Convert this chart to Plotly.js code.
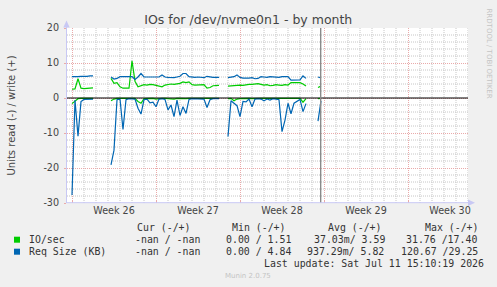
<!DOCTYPE html>
<html>
<head>
<meta charset="utf-8">
<script src="https://cdn.plot.ly/plotly-3.0.1.min.js"></script>
<style>
  html, body { margin: 0; padding: 0; background: #f0f0f0; }
  #chart { width: 497px; height: 287px; }
</style>
</head>
<body>
<div id="chart"></div>
<script>
// Samples every 6 hours, starting Sunday 2026-06-21 00:00; null = no data.
const sampleStartUTC = Date.UTC(2026, 5, 21, 0, 0);
const sampleStepHours = 6;

// Req Size (KB), write (+)
const reqWrite = [
  6.1, 6.0, 6.1, 6.2, 6.1, 6.2, 6.3, 6.3,
  null, null, null, null, null,
  6.0, 5.4, 5.6, 6.1, 6.1, 6.0, 6.1, 6.1, 5.3, 6.0, 7.0, 6.0, 6.0, 5.9, 5.9, 5.8, 6.0,
  6.6, 6.0, 5.9, 5.8, 5.8, 6.0, 6.2, 7.0, 7.0, 6.1, 5.9, 5.9, 6.0, 5.9, 5.8, 6.2, 6.0,
  5.9, 5.9, 5.9,
  null, null,
  5.8, 5.9, 6.1, 6.6, 5.9, 5.7, 5.6, 5.7, 5.8, 5.5, 5.6,
  6.1, 6.0, 5.9, 6.1, 6.0, 6.0, 5.9, 6.1, 6.0, 6.1, 5.1, 5.1, 5.1, 5.2, 6.3, 5.6,
  null, null, null,
  6.0, 5.7
];

// IO/sec, write (+)
const ioWrite = [
  2.5, 2.6, 5.5, 2.8, 2.7, 2.8, 2.7, 2.9,
  null, null, null, null, null,
  5.6, 4.2, 4.4, 3.2, 2.8, 2.8, 2.8, 10.6, 4.8, 3.2, 3.6, 3.8, 3.7, 3.9, 3.8, 3.6, 3.5,
  3.2, 3.7, 3.9, 4.0, 3.9, 4.0, 4.2, 4.6, 4.4, 4.6, 3.8, 3.7, 3.8, 3.9, 3.8, 2.8, 3.0,
  3.5, 3.6, 3.6,
  null, null,
  3.4, 3.5, 3.6, 3.8, 3.7, 3.6, 3.8, 3.9, 3.9, 4.0, 4.1,
  3.9, 3.7, 3.8, 3.5, 3.6, 3.8, 3.7, 3.6, 3.8, 3.7, 4.4, 4.4, 4.5, 4.4, 4.0, 3.4,
  null, null, null,
  3.0, 3.4
];

// Req Size (KB), read (-)
const reqRead = [
  -27.7, -0.6, -10.9, -1.0, -0.4, -0.3, -0.3, -0.3,
  null, null, null, null, null,
  -19.1, -14.9, -0.5, -0.3, -9.0, -0.5, -0.2, -0.2, -0.3, -2.9, -4.6, -0.5, -0.3, -1.4, -1.2, -2.5, -0.3,
  -0.2, -0.4, -3.4, -2.0, -5.3, -0.6, -5.0, -2.5, -4.4, -0.4, -0.2, -0.2, -0.3, -0.2, -0.3, -2.7, -0.5,
  -0.2, -0.3, -0.2,
  null, null,
  -11.0, -0.8, -1.5, -2.2, -5.3, -1.0, -1.1, -0.3, -2.5, -0.3, -0.2,
  -0.3, -0.8, -0.3, -0.6, -0.2, -0.3, -0.5, -9.6, -6.3, -1.5, -4.5, -1.5, -1.0, -0.4, -3.9, -1.6,
  null, null, null,
  -6.6, -0.8
];

// IO/sec, read (-)
const ioRead = [
  -1.6, -0.8, -0.2, -0.1, -0.1, -0.1, -0.1, -0.1,
  null, null, null, null, null,
  -0.8, -0.3, -0.1, -0.1, -0.2, -0.1, -0.1, -0.1, -0.1, -1.0, -1.5, -0.2, -0.1, -0.2, -0.1, -0.3, -0.1,
  -0.1, -0.1, -0.2, -0.1, -0.3, -0.1, -0.2, -0.1, -0.2, -0.1, -0.1, -0.1, -0.1, -0.1, -0.1, -0.2, -0.1,
  -0.1, -0.1, -0.1,
  null, null,
  -0.2, -0.1, -0.8, -0.3, -0.2, -0.1, -0.1, -0.1, -0.2, -0.1, -0.1,
  -0.1, -0.1, -0.1, -0.1, -0.1, -0.1, -0.1, -0.3, -0.2, -0.1, -0.2, -0.1, -0.1, -0.1, -1.2, -0.2,
  null, null, null,
  -0.2, -0.1
];

// Week grid: weeks start on Sunday; labels sit in the middle of each week.
const weekStarts = ['2026-06-21', '2026-06-28', '2026-07-05', '2026-07-12', '2026-07-19'];
const weekLabels = ['Week 26', 'Week 27', 'Week 28', 'Week 29', 'Week 30'];
const yTicks = [-30, -20, -10, 0, 10, 20];

// Legend table
const legendHeader = ['Cur (-/+)', 'Min (-/+)', 'Avg (-/+)', 'Max (-/+)'];
const legendNames = ['IO/sec', 'Req Size (KB)'];
const legendCur = ['-nan / -nan', '-nan / -nan'];
const legendMin = ['0.00 / 1.51', '0.00 / 4.84'];
const legendAvg = ['37.03m/ 3.59', '937.29m/ 5.82'];
const legendMax = ['31.76 /17.40', '120.67 /29.25'];
const lastUpdate = 'Last update: Sat Jul 11 15:10:19 2026';
const nowStamp = '2026-07-11 17:20';

const GREEN = '#00cc00';
const BLUE = '#0066b3';

const DAY_MS = 86400000;
function stamp(ms) {
  return new Date(ms).toISOString().slice(0, 16).replace('T', ' ');
}
const times = reqWrite.map((_, i) => stamp(sampleStartUTC + i * sampleStepHours * 3600 * 1000));

// Plot box in pixels
const W = 497, H = 287;
const PL = 67, PR = 468, PT = 28, PB = 203;
const px = v => (v - PL) / (PR - PL);   // pixel x -> paper
const py = v => (PB - v) / (PB - PT);   // pixel y -> paper

function line(y, color) {
  return { x: times, y: y, type: 'scatter', mode: 'lines',
           line: { color: color, width: 1.2 }, connectgaps: false,
           hoverinfo: 'skip', showlegend: false };
}
const traces = [line(ioRead, GREEN), line(ioWrite, GREEN), line(reqRead, BLUE), line(reqWrite, BLUE)];

const MONO = 'DejaVu Sans Mono';
const SANS = 'DejaVu Sans';
const TXT = '#333333';
const ann = [];
function label(text, x, y, opts) {
  ann.push(Object.assign({
    text: text, xref: 'paper', yref: 'paper', x: px(x), y: py(y),
    xanchor: 'left', yanchor: 'middle', showarrow: false,
    font: { family: MONO, size: 9.9, color: TXT }
  }, opts || {}));
}

// legend columns
const colX = { head: [135, 230, 326, 422.7], cur: [132.7, 132.7], min: [224, 224],
               avg: [311.7, 305], max: [404.3, 399.3] };
const rowY = [239.7, 251.7];
legendHeader.forEach((t, i) => label(t, colX.head[i], 227.7));
legendNames.forEach((t, i) => {
  label(t, 26.7, rowY[i]);
  label(legendCur[i], colX.cur[i], rowY[i]);
  label(legendMin[i], colX.min[i], rowY[i]);
  label(legendAvg[i], colX.avg[i], rowY[i]);
  label(legendMax[i], colX.max[i], rowY[i]);
});
label(lastUpdate, 261.7, 263.3);
label('Munin 2.0.75', 248, 276.3, { xanchor: 'center', font: { family: SANS, size: 7, color: '#c4c4c4' } });
label('Units read (-) / write (+)', 11, 115.5,
      { xanchor: 'center', textangle: -90, font: { family: SANS, size: 10, color: '#444444' } });
label('RRDTOOL / TOBI OETIKER', 488.5, 53,
      { xanchor: 'center', textangle: 90, font: { family: SANS, size: 7, color: '#c4c4c4' } });

const MAJOR = '#eaaaaa';
const MINOR = '#c6c6c6';
const DOTS = '1px,1px';
const AXIS = '#c8c8f4';

const shapes = [];
// minor grid: one dotted line per day, one per 2 units
for (let d = -1; d <= 33; d++) {
  if (d % 7 === 0) continue;
  const t = stamp(sampleStartUTC + d * DAY_MS);
  shapes.push({ type: 'line', xref: 'x', yref: 'paper', x0: t, x1: t, y0: 0, y1: 1,
                line: { color: MINOR, width: 1, dash: DOTS }, layer: 'below' });
}
for (let v = -28; v < 20; v += 2) {
  if (v % 10 === 0) continue;
  shapes.push({ type: 'line', xref: 'paper', yref: 'y', x0: 0, x1: 1, y0: v, y1: v,
                line: { color: MINOR, width: 1, dash: DOTS }, layer: 'below' });
}
shapes.push(
  // zero line
  { type: 'line', xref: 'paper', yref: 'y', x0: 0, x1: 1, y0: 0, y1: 0,
    line: { color: '#000000', width: 1.2 }, layer: 'above' },
  // last-update marker
  { type: 'line', xref: 'x', yref: 'paper', x0: nowStamp, x1: nowStamp, y0: 0, y1: 1,
    line: { color: '#8a8a8a', width: 1.4 }, layer: 'above' },
  // axis lines with arrow heads
  { type: 'line', xref: 'paper', yref: 'paper', x0: px(66.5), x1: px(66.5), y0: py(203), y1: py(25),
    line: { color: AXIS, width: 1 }, layer: 'above' },
  { type: 'path', xref: 'paper', yref: 'paper',
    path: `M ${px(66.5)} ${py(20.5)} L ${px(63.3)} ${py(27.5)} L ${px(69.7)} ${py(27.5)} Z`,
    fillcolor: AXIS, line: { width: 0 }, layer: 'above' },
  { type: 'line', xref: 'paper', yref: 'paper', x0: px(66.5), x1: px(470), y0: py(202.7), y1: py(202.7),
    line: { color: AXIS, width: 1 }, layer: 'above' },
  { type: 'path', xref: 'paper', yref: 'paper',
    path: `M ${px(475)} ${py(202.7)} L ${px(468)} ${py(199.5)} L ${px(468)} ${py(205.9)} Z`,
    fillcolor: AXIS, line: { width: 0 }, layer: 'above' },
  // legend swatches
  { type: 'rect', xref: 'paper', yref: 'paper', x0: px(14), x1: px(20), y0: py(242.7), y1: py(236.7),
    fillcolor: GREEN, line: { width: 0 } },
  { type: 'rect', xref: 'paper', yref: 'paper', x0: px(14), x1: px(20), y0: py(254.7), y1: py(248.7),
    fillcolor: BLUE, line: { width: 0 } }
);

const tickFont = { family: SANS, size: 9.6, color: '#444444' };

const layout = {
  width: W, height: H,
  margin: { l: PL, r: W - PR, t: PT, b: H - PB, pad: 0 },
  paper_bgcolor: '#f0f0f0',
  plot_bgcolor: '#ffffff',
  showlegend: false,
  title: {
    text: 'IOs for /dev/nvme0n1 - by month',
    font: { family: SANS, size: 12.5, color: '#444444' },
    xref: 'container', yref: 'container', x: 248.3 / W, y: 1 - 19.3 / H,
    xanchor: 'center', yanchor: 'middle'
  },
  xaxis: {
    type: 'date',
    range: ['2026-06-20 14:00', '2026-07-24 00:00'],
    tickmode: 'array', tickvals: weekStarts, ticktext: weekLabels,
    ticklabelshift: 42,
    tickfont: tickFont,
    ticks: 'inside', ticklen: 2, tickcolor: MAJOR,
    showgrid: true, gridcolor: MAJOR, griddash: DOTS, gridwidth: 1,
    zeroline: false, showline: false, fixedrange: true
  },
  yaxis: {
    range: [-30, 20],
    tickmode: 'array', tickvals: yTicks, ticktext: yTicks.map(String),
    tickfont: tickFont,
    ticks: 'outside', ticklen: 2, tickcolor: MAJOR,
    ticklabelstandoff: 3,
    showgrid: true, gridcolor: MAJOR, griddash: DOTS, gridwidth: 1,
    zeroline: false, showline: false, fixedrange: true
  },
  annotations: ann,
  shapes: shapes
};

Plotly.newPlot('chart', traces, layout, { staticPlot: true, displayModeBar: false });
</script>
</body>
</html>
